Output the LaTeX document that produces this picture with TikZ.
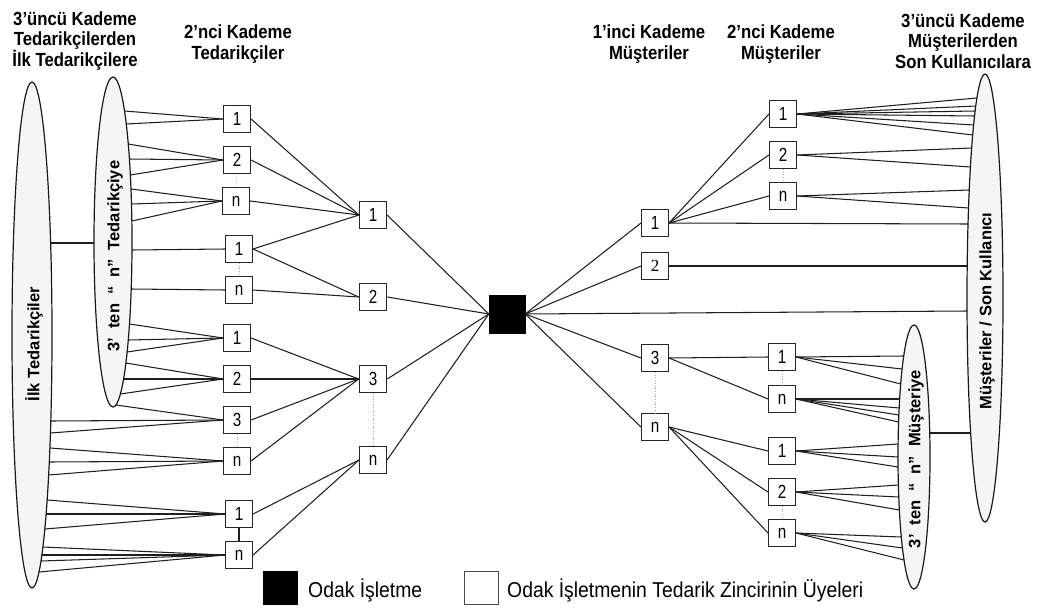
\documentclass[tikz,border=0pt]{standalone}
\usepackage{fontspec}
\setmainfont{Liberation Sans}
\newfontfamily\narrowfont[FakeStretch=0.8]{Liberation Sans}
\newfontfamily\headfont[FakeStretch=0.88]{Liberation Sans}
\newfontfamily\keyfont[FakeStretch=0.9]{Liberation Sans}
\newfontfamily\digitserif{Liberation Serif}
\usetikzlibrary{shapes.geometric,calc}

\tikzset{
  link/.style={draw=black!88, line width=1.05pt},
  member/.style={draw=black!85, line width=1.1pt, fill=white, minimum width=27pt,
    minimum height=27pt, inner sep=0pt, font=\narrowfont\fontsize{19}{19}\selectfont},
  strong/.style={line width=1.7pt},
  tier/.style={ellipse, draw=black!90, line width=1.2pt, fill=black!4, inner sep=0pt},
  tiertext/.style={rotate=90, inner sep=0pt, font=\bfseries\fontsize{16.5}{16.5}\selectfont},
  head/.style={align=center, inner sep=0pt, font=\headfont\bfseries\fontsize{19}{20.5}\selectfont},
  gap/.style={draw=black!35, dotted, line width=0.7pt},
  legendtext/.style={anchor=base west, inner sep=0pt, font=\keyfont\fontsize{21.5}{21.5}\selectfont},
}

% fan of links from a box anchor to the rim of an ellipse
% #1 anchor, #2 ellipse node, #3 side (+1 right rim / -1 left rim), #4 rx, #5 ry, #6 centre y, #7 list of rim y values
\newcommand\fan[7]{%
  \foreach \yy in {#7}{%
    \draw[link] (#1) -- ($(#2.center)+({#3*#4*sqrt(max(0,1-((\yy-#6)/#5)*((\yy-#6)/#5)))},{\yy-#6})$);}}

\newcommand\gw{\hspace{9pt}}

\begin{document}
\begin{tikzpicture}[x=1pt,y=-1pt]
\useasboundingbox (0,0) rectangle (1040,607);

% column headings
\node[head] (h1) at (75,41) {3’üncü Kademe\\Tedarikçilerden\\İlk Tedarikçilere};
\node[head] (h2) at (238,44) {2’nci Kademe\\Tedarikçiler};
\node[head] (h3) at (649,44) {1’inci Kademe\\Müşteriler};
\node[head] (h4) at (781,44) {2’nci Kademe\\Müşteriler};
\node[head] (h5) at (963,41) {3’üncü Kademe\\Müşterilerden\\Son Kullanıcılara};

% tier ellipses
\node[tier, minimum width=40pt, minimum height=506pt] (E1) at (32,335) {};
\node[tier, minimum width=38pt, minimum height=330pt] (E2) at (113,242) {};
\node[tier, minimum width=32pt, minimum height=264pt] (E3) at (914,457) {};
\node[tier, minimum width=36pt, minimum height=448pt] (E4) at (985,298) {};
\node[tiertext] (t1) at (34,344) {İlk Tedarikçiler};
\node[tiertext] (t2) at (115,256) {3’\gw ten\gw “\gw n”\gw Tedarikçiye};
\node[tiertext] (t3) at (916,459) {3’\gw ten\gw “\gw n”\gw Müşteriye};
\node[tiertext] (t4) at (987,311) {Müşteriler / Son Kullanıcı};

% supplier side boxes
\node[member] (a1) at (237,119) {1};
\node[member] (a2) at (237,160) {2};
\node[member] (a3) at (236,201) {n};
\node[member] (a4) at (239,249) {1};
\node[member] (a5) at (239,290) {n};
\node[member] (a6) at (237,338) {1};
\node[member] (a7) at (237,379) {2};
\node[member] (a8) at (237,420) {3};
\node[member] (a9) at (237,461) {n};
\node[member] (a10) at (239,514) {1};
\node[member] (a11) at (239,555) {n};

\node[member] (b1) at (373,215) {1};
\node[member, strong] (b2) at (373,297) {2};
\node[member, strong] (b3) at (373,379) {3};
\node[member] (b4) at (373,460) {n};

% focal firm
\node[draw=black, fill=black, minimum width=36pt, minimum height=38pt, inner sep=0pt] (F) at (507,314) {};

% customer side boxes
\node[member] (c1) at (655,223) {1};
\node[member, font=\digitserif\fontsize{17}{17}\selectfont] (c2) at (655,266) {2};
\node[member] (c3) at (655,358) {3};
\node[member] (c4) at (655,427) {n};

\node[member] (d1) at (783,114) {1};
\node[member] (d2) at (783,155) {2};
\node[member] (d3) at (783,196) {n};
\node[member] (d4) at (782,357) {1};
\node[member] (d5) at (782,399) {n};
\node[member] (d6) at (782,451) {1};
\node[member] (d7) at (782,492) {2};
\node[member] (d8) at (782,533) {n};

% links between the two supplier ellipses and the two customer ellipses
\draw[link] ($(E1.center)+({20*sqrt(1-(92/253)*(92/253))},-92)$) -- ($(E2.center)+(-19,1)$);
\draw[link] ($(E3.center)+({16*sqrt(1-(24/132)*(24/132))},-24)$) -- ($(E4.center)+({-18*sqrt(1-(135/224)*(135/224))},135)$);

% fans from the supplier ellipses
\fan{a1.west}{E2}{1}{19}{165}{242}{111,124}
\fan{a2.west}{E2}{1}{19}{165}{242}{144,159,175}
\fan{a3.west}{E2}{1}{19}{165}{242}{189,204,221}
\fan{a4.west}{E2}{1}{19}{165}{242}{250}
\fan{a5.west}{E2}{1}{19}{165}{242}{289}
\fan{a6.west}{E2}{1}{19}{165}{242}{324,340,352}
\fan{a7.west}{E2}{1}{19}{165}{242}{363,379,394}
\fan{a8.west}{E2}{1}{19}{165}{242}{405}
\fan{a8.west}{E1}{1}{20}{253}{335}{421,433}
\fan{a9.west}{E1}{1}{20}{253}{335}{448,462,475}
\fan{a10.west}{E1}{1}{20}{253}{335}{500,514,529}
\fan{a11.west}{E1}{1}{20}{253}{335}{547,555,561,572}

% supplier tiers towards the focal firm
\foreach \s in {a1,a2,a3,a4} \draw[link] (\s.east) -- (b1.west);
\foreach \s in {a4,a5} \draw[link] (\s.east) -- (b2.west);
\foreach \s in {a6,a7,a8,a9} \draw[link] (\s.east) -- (b3.west);
\foreach \s in {a10,a11} \draw[link] (\s.east) -- (b4.west);
\foreach \s in {b1,b2,b3,b4} \draw[link] (\s.east) -- (F.west);

% focal firm towards the customer tiers
\foreach \t in {c1,c2,c3,c4} \draw[link] (F.east) -- (\t.west);
\foreach \t in {d1,d2,d3} \draw[link] (c1.east) -- (\t.west);
\foreach \t in {d4,d5} \draw[link] (c3.east) -- (\t.west);
\foreach \t in {d6,d7,d8} \draw[link] (c4.east) -- (\t.west);

% fans into the customer ellipses
\fan{d1.east}{E4}{-1}{18}{224}{298}{98,106,111,116,125,135}
\fan{d2.east}{E4}{-1}{18}{224}{298}{148,167}
\fan{d3.east}{E4}{-1}{18}{224}{298}{190,208}
\fan{c1.east}{E4}{-1}{18}{224}{298}{224}
\fan{c2.east}{E4}{-1}{18}{224}{298}{266}
\fan{F.east}{E4}{-1}{18}{224}{298}{311}
\fan{d4.east}{E3}{-1}{16}{132}{457}{356,369,384}
\fan{d5.east}{E3}{-1}{16}{132}{457}{399,408,415,422}
\fan{d6.east}{E3}{-1}{16}{132}{457}{444,457,467}
\fan{d7.east}{E3}{-1}{16}{132}{457}{485,497,510}
\fan{d8.east}{E3}{-1}{16}{132}{457}{537,548,560}

% "and so on" markers between boxes of one column
\draw[gap] (a2.south) -- (a3.north);
\draw[gap] (a4.south) -- (a5.north);
\draw[gap] (a8.south) -- (a9.north);
\draw[link] (a10.south) -- (a11.north);
\draw[gap] (b3.south) -- (b4.north);
\draw[gap] (c3.south) -- (c4.north);
\draw[gap] (d2.south) -- (d3.north);
\draw[gap] (d4.south) -- (d5.north);
\draw[gap] (d7.south) -- (d8.north);

% key
\node[draw=black, fill=black, minimum width=34pt, minimum height=33pt, inner sep=0pt] (k1) at (280,588) {};
\node[legendtext] (k1t) at (308,597) {Odak İşletme};
\node[draw=black!70, line width=0.8pt, fill=white, minimum width=34pt, minimum height=33pt, inner sep=0pt] (k2) at (481,588) {};
\node[legendtext] (k2t) at (507,597) {Odak İşletmenin Tedarik Zincirinin Üyeleri};
\end{tikzpicture}
\end{document}
